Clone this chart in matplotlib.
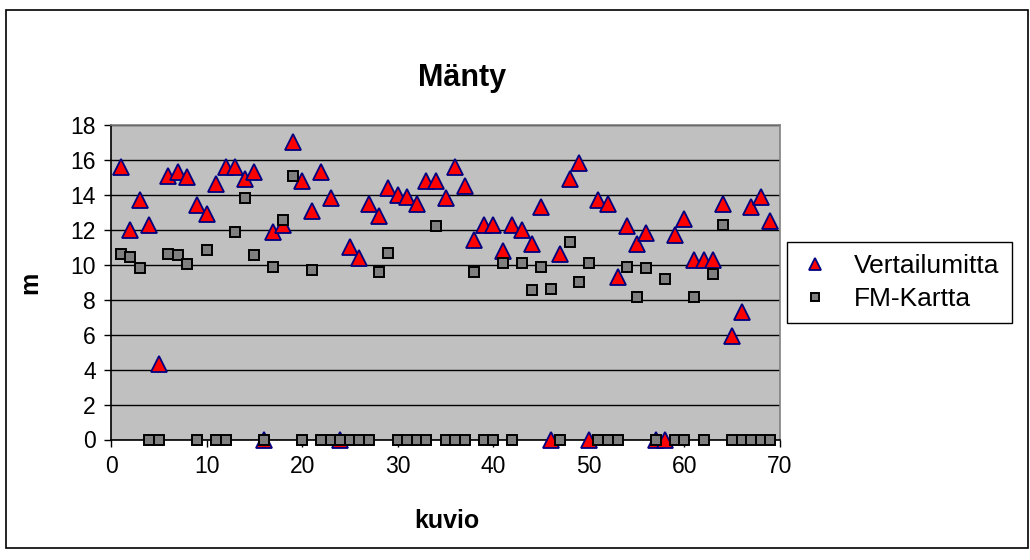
import numpy as np
import matplotlib
matplotlib.use("Agg")
import matplotlib.pyplot as plt
from matplotlib.patches import Rectangle

plt.rcParams['font.family'] = ['Liberation Sans', 'DejaVu Sans']

# kuvio numbers 1..69
kuvio = list(range(1, 70))

vertailumitta = [
    15.6, 12.0, 13.7, 12.3, 4.3, 15.1, 15.3, 15.0, 13.4, 12.9,
    14.6, 15.6, 15.6, 14.9, 15.3, 0.0, 11.9, 12.3, 17.0, 14.8,
    13.1, 15.3, 13.8, 0.0, 11.0, 10.4, 13.5, 12.8, 14.4, 14.0,
    13.9, 13.5, 14.8, 14.8, 13.8, 15.6, 14.5, 11.4, 12.3, 12.3,
    10.8, 12.3, 12.0, 11.2, 13.3, 0.0, 10.6, 14.9, 15.8, 0.0,
    13.7, 13.5, 9.3, 12.2, 11.2, 11.8, 0.0, 0.0, 11.7, 12.6,
    10.3, 10.3, 10.3, 13.5, 5.9, 7.3, 13.3, 13.9, 12.5,
]

fm_kartta = [
    10.6, 10.45, 9.8, 0.0, 0.0, 10.6, 10.55, 10.05, 0.0, 10.85,
    0.0, 0.0, 11.9, 13.8, 10.55, 0.0, 9.9, 12.55, 15.1, 0.0,
    9.7, 0.0, 0.0, 0.0, 0.0, 0.0, 0.0, 9.6, 10.65, 0.0,
    0.0, 0.0, 0.0, 12.2, 0.0, 0.0, 0.0, 9.6, 0.0, 0.0,
    10.1, 0.0, 10.1, 8.55, 9.9, 8.6, 0.0, 11.3, 9.0, 10.1,
    0.0, 0.0, 0.0, 9.9, 8.15, 9.8, 0.0, 9.2, 0.0, 0.0,
    8.15, 0.0, 9.5, 12.3, 0.0, 0.0, 0.0, 0.0, 0.0,
]

W, H = 1030, 560
fig = plt.figure(figsize=(W / 100, H / 100), dpi=100)
ax = fig.add_axes([111 / W, 1 - 439.5 / H, (780 - 111) / W, (439.5 - 125) / H])
ax.set_facecolor('#C0C0C0')

ax.plot(kuvio, vertailumitta, linestyle='none', marker='^', markersize=11,
        markerfacecolor='#FF0000', markeredgecolor='#000080', markeredgewidth=1.3,
        label='Vertailumitta', clip_on=False, zorder=3)
ax.plot(kuvio, fm_kartta, linestyle='none', marker='s', markersize=6.8,
        markerfacecolor='#808080', markeredgecolor='black', markeredgewidth=1.4,
        label='FM-Kartta', clip_on=False, zorder=4)

ax.set_xlim(0, 70)
ax.set_ylim(0, 18)
ax.set_xticks(range(0, 71, 10))
ax.set_yticks(range(0, 19, 2))
ax.yaxis.grid(True, color='black', linewidth=1)
ax.set_axisbelow(True)
ax.tick_params(direction='out', length=5, width=1, labelsize=16.5, pad=6)

for s in ['top', 'right']:
    ax.spines[s].set_color('#808080')
    ax.spines[s].set_linewidth(1.2)
for s in ['left', 'bottom']:
    ax.spines[s].set_color('black')
    ax.spines[s].set_linewidth(1.2)

fig.text(462 / W, 1 - 78 / H, 'Mänty', ha='center', va='center',
         fontsize=22, fontweight='bold')
fig.text(447 / W, 1 - 521 / H, 'kuvio', ha='center', va='center',
         fontsize=18, fontweight='bold')
fig.text(30 / W, 1 - 283 / H, 'm', ha='center', va='center',
         fontsize=18, fontweight='bold', rotation=90)

leg = fig.legend(loc='center left', bbox_to_anchor=(787 / W, 1 - 282.5 / H),
                 frameon=True, fancybox=False, edgecolor='black', framealpha=1,
                 fontsize=19, handlelength=1.2, handletextpad=0.9,
                 borderpad=0.45, labelspacing=0.35, borderaxespad=0)
leg.get_frame().set_linewidth(1)
for h in leg.legend_handles:
    h.set_markersize(h.get_markersize() * 0.8)

fig.patches.append(Rectangle((6 / W, 12 / H), (1028 - 6) / W, (550 - 12) / H,
                             transform=fig.transFigure, fill=False,
                             edgecolor='black', linewidth=1.2))

fig.savefig('out.png', dpi=100)
